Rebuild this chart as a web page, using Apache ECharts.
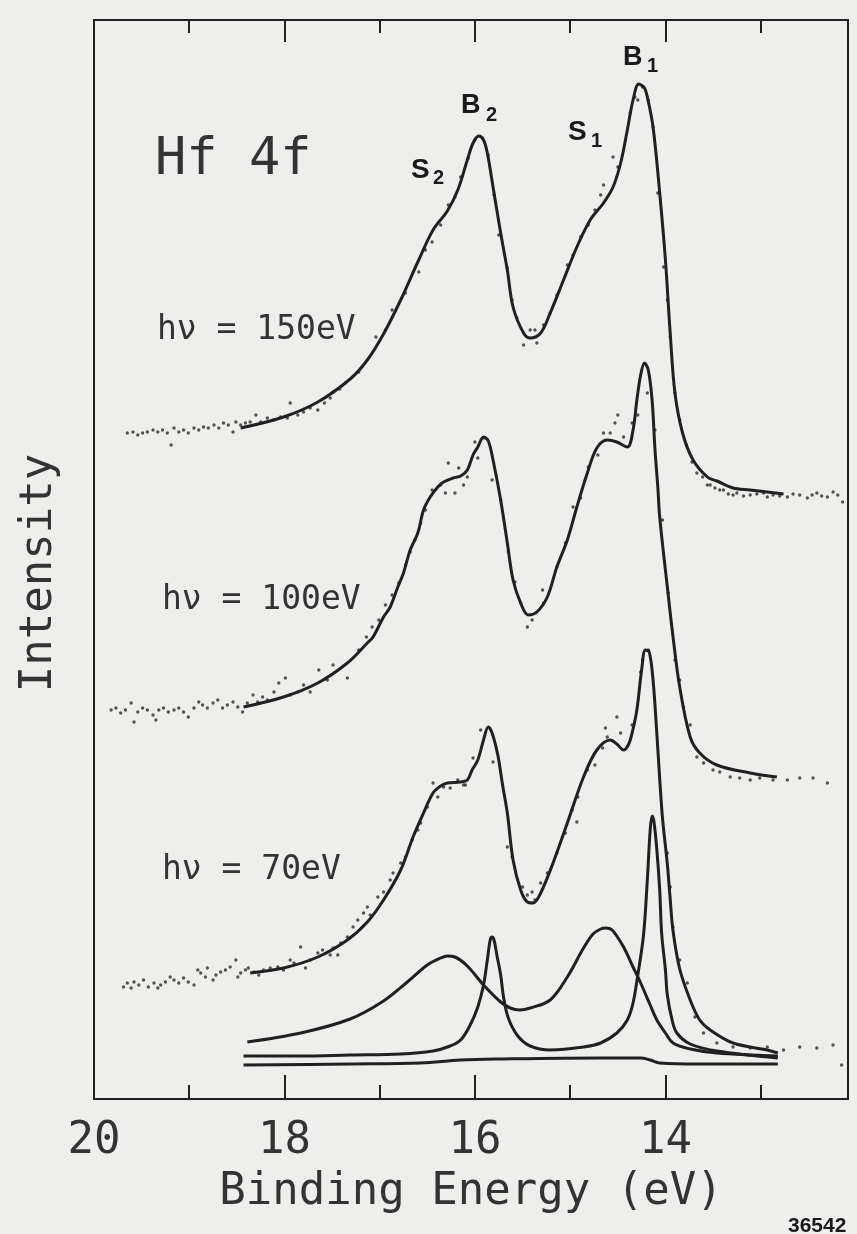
<!DOCTYPE html>
<html>
<head>
<meta charset="utf-8">
<script src="https://cdn.jsdelivr.net/npm/echarts@6/dist/echarts.min.js"></script>
<style>
  html, body { margin: 0; padding: 0; background: #eeeeec; }
  #chart { width: 857px; height: 1234px; }
</style>
</head>
<body>
<div id="chart"></div>
<script>
// ---------- tick definitions (binding energy, eV) ----------
const xTickLabels = [14, 16, 18, 20];
const xMajorTicks = [14, 16, 18];
const xMinorTicks = [13, 15, 17, 19];

// ---------- hv = 150 eV : fit curve and measured points ----------
const fit150 = [[18.46,67.1],[18.01,68.2],[17.65,69.7],[17.31,72.0],[17.13,73.9],[16.96,76.5],[16.78,79.9],[16.60,83.7],[16.44,86.9],[16.29,88.8],[16.18,90.9],[16.08,93.9],[16.02,95.6],[15.96,96.3],[15.91,95.9],[15.87,94.6],[15.81,91.2],[15.73,86.6],[15.66,82.9],[15.60,79.2],[15.49,76.6],[15.42,76.1],[15.31,76.6],[15.21,78.6],[15.07,81.9],[14.93,85.2],[14.79,87.9],[14.65,89.6],[14.55,91.2],[14.47,93.6],[14.40,96.9],[14.34,99.9],[14.28,101.5],[14.22,101.1],[14.19,100.2],[14.13,97.2],[14.06,90.6],[14.00,83.9],[13.95,76.6],[13.90,70.6],[13.82,66.6],[13.71,63.9],[13.56,62.2],[13.46,61.8],[13.29,61.1],[13.11,60.9],[12.76,60.5]];
const dots150 = [[19.65,66.6],[19.59,66.7],[19.54,66.4],[19.49,66.6],[19.44,66.7],[19.38,66.9],[19.33,66.7],[19.28,66.9],[19.23,66.6],[19.19,65.4],[19.16,67.1],[19.11,66.7],[19.06,66.9],[19.01,66.6],[18.95,67.1],[18.90,66.9],[18.85,67.2],[18.80,67.1],[18.74,67.4],[18.69,67.1],[18.64,67.6],[18.59,67.4],[18.54,66.7],[18.51,67.7],[18.46,67.4],[18.41,67.6],[18.36,67.7],[18.30,68.4],[18.25,67.7],[18.18,68.1],[18.11,67.9],[18.04,68.2],[17.97,68.1],[17.94,69.6],[17.86,68.4],[17.80,68.7],[17.73,69.1],[17.65,68.9],[17.58,69.6],[17.52,70.1],[17.42,71.0],
  [17.49,70.7],[17.36,71.6],[17.22,72.7],[17.04,76.2],[16.94,76.9],[16.87,78.9],[16.73,80.6],[16.59,82.7],[16.52,84.9],[16.45,85.7],[16.36,87.4],[16.28,89.4],[16.21,90.2],[16.15,92.2],[16.07,94.1],[16.00,95.9],[15.92,96.1],[15.86,94.4],[15.80,90.4],[15.75,86.4],[15.66,83.1],[15.61,79.9],[15.56,78.1],[15.49,75.4],[15.42,76.9],[15.37,76.9],[15.35,75.6],[15.28,77.4],[15.21,78.6],[15.14,80.4],[15.03,83.4],[14.97,84.4],[14.89,86.2],[14.81,87.4],[14.74,88.9],[14.68,90.4],[14.65,91.4],[14.55,94.2],[14.50,93.2],[14.42,95.9],[14.37,98.6],[14.32,100.2],[14.29,99.9],[14.24,101.2],[14.18,99.9],[14.13,97.2],[14.08,90.6],[14.02,83.2],[13.98,79.9],[13.95,76.2],[13.90,70.6],[13.85,67.9],[13.78,65.4],[13.72,63.7],[13.67,62.6],[13.61,62.2],[13.56,61.4],[13.53,61.4],[13.48,61.1],[13.43,60.9],[13.39,60.9],[13.34,60.5],[13.29,60.4],[13.25,60.6],[13.18,60.3],[13.11,60.4],[13.04,60.5],[12.97,60.6],[12.93,60.2],[12.87,60.4],[12.80,60.3],[12.72,60.2],[12.66,60.5],[12.59,60.4],[12.51,60.1],[12.46,60.4],[12.41,60.6],[12.36,60.3],[12.30,60.2],[12.24,60.7],[12.19,60.4],[12.14,59.7]];

// ---------- hv = 100 eV ----------
const fit100 = [[18.43,39.2],[18.01,40.2],[17.65,41.6],[17.34,43.6],[17.13,45.6],[17.07,46.2],[16.96,48.2],[16.89,49.2],[16.81,51.2],[16.75,52.6],[16.68,54.9],[16.60,56.6],[16.54,58.9],[16.47,60.2],[16.39,61.2],[16.33,61.7],[16.23,62.1],[16.15,62.3],[16.08,62.9],[16.02,64.4],[15.97,65.2],[15.91,66.2],[15.86,65.8],[15.81,63.9],[15.73,59.9],[15.66,55.6],[15.60,51.9],[15.52,49.6],[15.44,48.4],[15.35,48.7],[15.24,50.2],[15.14,53.2],[15.03,55.9],[14.93,59.2],[14.82,62.6],[14.72,65.1],[14.61,65.9],[14.51,65.7],[14.40,65.2],[14.34,66.9],[14.30,69.9],[14.26,72.4],[14.22,73.6],[14.18,72.9],[14.14,69.9],[14.11,65.0],[14.08,61.2],[14.06,58.2],[13.98,51.2],[13.92,46.2],[13.85,41.2],[13.74,36.2],[13.64,34.6],[13.46,33.4],[13.11,32.6],[12.83,32.2]];
const dots100 = [[19.82,38.9],[19.77,39.1],[19.72,38.6],[19.67,38.9],[19.61,39.6],[19.58,37.7],[19.54,38.7],[19.49,39.1],[19.44,38.9],[19.38,38.4],[19.35,37.9],[19.32,38.9],[19.27,39.1],[19.22,38.7],[19.16,38.9],[19.11,39.1],[19.06,38.7],[19.01,38.2],[18.95,39.1],[18.90,39.7],[18.86,39.4],[18.81,39.1],[18.75,39.6],[18.70,39.9],[18.65,39.1],[18.60,39.4],[18.54,39.7],[18.49,39.2],[18.44,38.7],[18.39,39.6],[18.33,40.4],[18.28,39.7],[18.23,40.2],[18.18,39.9],[18.11,40.7],[18.06,41.6],[17.99,42.1],[17.94,40.4],[17.86,40.7],[17.80,41.4],[17.73,40.7],[17.64,42.9],[17.55,41.9],[17.49,43.4],[17.34,42.1],
  [17.22,44.9],[17.14,46.2],[17.08,47.2],[17.01,47.9],[16.94,49.4],[16.87,50.4],[16.80,51.6],[16.73,53.4],[16.68,54.7],[16.63,55.9],[16.57,57.6],[16.52,58.9],[16.45,60.9],[16.36,61.4],[16.31,60.6],[16.28,63.6],[16.21,60.6],[16.17,63.1],[16.12,61.4],[16.08,62.2],[16.00,65.7],[15.97,64.1],[15.91,66.1],[15.82,61.9],[15.73,59.9],[15.65,54.7],[15.58,51.7],[15.52,49.6],[15.45,47.2],[15.40,47.9],[15.29,50.9],[15.28,49.6],[15.14,53.2],[15.05,55.6],[14.97,59.2],[14.89,60.1],[14.81,63.2],[14.71,64.4],[14.65,66.6],[14.58,66.6],[14.53,67.6],[14.50,68.4],[14.44,66.2],[14.35,67.6],[14.29,68.4],[14.19,70.6],
  [14.11,66.9],[14.03,57.9],[13.97,50.6],[13.90,43.9],[13.85,41.9],[13.81,39.2],[13.74,37.4],[13.67,34.2],[13.60,33.6],[13.50,32.9],[13.43,32.7],[13.32,32.2],[13.22,32.1],[13.11,31.9],[13.01,32.1],[12.87,31.9],[12.72,31.9],[12.59,32.1],[12.45,32.1],[12.30,31.6]];

// ---------- hv = 70 eV ----------
const fit70 = [[18.36,12.6],[18.01,13.1],[17.65,14.2],[17.34,15.9],[17.13,17.7],[16.96,19.9],[16.78,22.9],[16.65,26.2],[16.54,28.6],[16.44,30.6],[16.36,31.3],[16.29,31.6],[16.15,31.7],[16.08,31.9],[16.03,32.9],[15.97,33.9],[15.91,35.9],[15.86,37.2],[15.82,36.6],[15.76,34.4],[15.71,31.4],[15.66,28.6],[15.60,23.9],[15.52,20.9],[15.45,19.7],[15.39,19.6],[15.31,20.6],[15.18,23.6],[15.03,27.6],[14.86,32.2],[14.72,34.9],[14.58,35.9],[14.51,35.5],[14.44,34.9],[14.39,35.4],[14.35,36.6],[14.30,38.9],[14.25,42.9],[14.21,44.9],[14.17,44.7],[14.13,41.9],[14.09,36.5],[14.06,32.0],[14.03,28.0],[13.98,23.5],[13.95,20.0],[13.92,16.8],[13.85,13.0],[13.74,9.9],[13.64,7.9],[13.53,6.9],[13.29,5.6],[12.93,4.9],[12.82,4.6]];
const dots70 = [[19.69,11.2],[19.65,11.6],[19.61,11.1],[19.58,11.7],[19.53,11.4],[19.48,11.9],[19.43,11.2],[19.37,11.6],[19.33,11.1],[19.30,11.4],[19.25,11.7],[19.20,12.2],[19.16,11.9],[19.11,11.6],[19.06,12.1],[19.01,11.7],[18.95,11.4],[18.91,12.9],[18.88,12.6],[18.83,12.2],[18.81,13.1],[18.75,11.9],[18.72,12.4],[18.67,12.7],[18.62,12.9],[18.57,13.2],[18.51,13.9],[18.49,12.2],[18.46,12.6],[18.41,12.9],[18.38,13.1],[18.32,12.7],[18.27,12.4],[18.22,12.9],[18.15,13.1],[18.07,13.2],[18.01,12.9],[17.94,13.9],[17.90,13.6],[17.83,15.2],[17.78,13.1],[17.73,13.9],[17.65,14.6],[17.60,14.9],[17.52,14.4],[17.49,15.1],[17.44,14.4],[17.41,15.6],[17.34,16.2],[17.28,17.2],[17.23,17.9],[17.17,18.6],[17.13,19.2],[17.10,18.4],[17.02,20.2],[16.96,20.7],[16.89,21.9],[16.86,22.6],[16.78,23.6],[16.73,24.2],[16.66,25.9],[16.60,26.9],[16.57,27.6],[16.50,29.2],[16.44,31.6],[16.39,30.2],[16.33,31.2],[16.26,31.1],[16.18,31.9],[16.12,31.4],[16.10,31.4],
  [16.02,34.1],[15.94,36.9],[15.81,33.7],[15.66,25.2],[15.61,24.2],[15.50,21.2],[15.45,20.4],[15.40,20.7],[15.37,19.9],[15.31,21.6],[15.24,22.6],[15.14,24.6],[15.05,26.6],[14.98,28.9],[14.93,27.7],[14.92,30.2],[14.82,32.9],[14.74,33.4],[14.66,35.1],[14.63,37.1],[14.61,36.2],[14.51,38.2],[14.47,36.6],[14.35,37.4],[14.26,42.7],[14.24,43.9],[14.18,44.9],
  [13.98,24.6],[13.95,21.2],[13.92,17.2],[13.85,13.9],[13.77,11.6],[13.69,8.2],[13.60,6.6],[13.46,5.6],[13.29,5.2],[13.11,5.1],[12.93,5.2],[12.76,4.9],[12.59,5.2],[12.41,5.1],[12.24,5.4],[12.15,3.4]];

// ---------- hv = 70 eV decomposition ----------
const compSurface = [[18.39,5.7],[17.83,6.6],[17.31,8.0],[16.96,9.8],[16.71,11.7],[16.50,13.4],[16.36,14.1],[16.29,14.3],[16.21,14.2],[16.08,13.3],[15.91,11.4],[15.73,9.7],[15.63,9.1],[15.53,8.9],[15.42,9.1],[15.21,9.9],[15.03,12.2],[14.86,15.1],[14.76,16.5],[14.68,17.0],[14.63,17.1],[14.56,16.9],[14.44,15.2],[14.34,13.2],[14.26,11.6],[14.16,9.4],[14.09,7.9],[14.00,6.6],[13.92,5.6],[13.74,5.0],[13.46,4.6],[12.82,4.3]];
const compBulk = [[18.43,4.3],[17.83,4.3],[17.31,4.4],[16.78,4.5],[16.44,4.8],[16.26,5.3],[16.15,5.9],[16.05,7.4],[15.97,9.2],[15.91,11.4],[15.87,13.9],[15.84,15.9],[15.82,16.2],[15.80,15.9],[15.77,14.4],[15.73,12.4],[15.70,10.2],[15.65,8.1],[15.55,6.3],[15.42,5.3],[15.21,4.9],[14.86,5.2],[14.68,5.6],[14.51,6.6],[14.40,7.9],[14.34,9.6],[14.29,12.4],[14.23,16.4],[14.19,21.9],[14.16,26.9],[14.14,28.3],[14.12,27.7],[14.09,24.9],[14.06,20.9],[14.04,16.6],[14.00,12.9],[13.98,10.4],[13.93,7.9],[13.88,6.6],[13.74,5.5],[13.46,4.8],[12.82,4.1]];
const backgroundLine = [[18.43,3.4],[17.31,3.5],[16.57,3.6],[16.15,3.9],[15.73,4.0],[14.68,4.1],[14.26,4.1],[14.16,3.9],[14.06,3.6],[13.64,3.5],[12.82,3.5]];

const INK = '#202020';
const TXT = '#333333';
const MONO = '"DejaVu Sans Mono", "Liberation Mono", monospace';
const BOLD = 'bold {S}px "Liberation Sans", Arial, sans-serif';

const chart = echarts.init(document.getElementById('chart'), null, { renderer: 'canvas' });

function xAx(pos, ticks, len, labels) {
  return {
    type: 'value', min: 12.083, max: 20, inverse: true, position: pos,
    axisLine: { show: false }, splitLine: { show: false },
    axisTick: { show: true, inside: true, length: len, customValues: ticks, lineStyle: { color: INK, width: 2 } },
    axisLabel: labels ? { show: true, customValues: labels, margin: 21, fontFamily: MONO, fontSize: 44, color: TXT } : { show: false }
  };
}
const xMain = xAx('bottom', xMajorTicks, 24, xTickLabels);
xMain.name = 'Binding Energy (eV)';
xMain.nameLocation = 'middle';
xMain.nameGap = 72;
xMain.nameTextStyle = { fontFamily: MONO, fontSize: 44, color: TXT };

function lineSeries(name, data) {
  return { name, type: 'line', data, showSymbol: false, smooth: 0.35,
    lineStyle: { color: INK, width: 3 }, silent: true, z: 3 };
}
function dotSeries(name, data) {
  return { name, type: 'scatter', data, symbol: 'circle', symbolSize: 3.4,
    itemStyle: { color: '#2a2a2a' }, silent: true, z: 2 };
}
function txt(text, x, y, font, color) {
  return { type: 'text', x, y, silent: true,
    style: { text, font, fill: color || TXT, align: 'left', verticalAlign: 'middle' } };
}
const big = (s) => BOLD.replace('{S}', s);

chart.setOption({
  backgroundColor: '#eeeeec',
  animation: false,
  grid: { left: 94, right: 9, top: 20, bottom: 135, show: true, borderColor: INK, borderWidth: 2, backgroundColor: 'transparent' },
  xAxis: [
    xMain,
    xAx('bottom', xMinorTicks, 14, null),
    xAx('top', xMajorTicks, 22, null),
    xAx('top', xMinorTicks, 13, null)
  ],
  yAxis: [{
    type: 'value', min: 0, max: 107.9,
    axisLine: { show: false }, axisTick: { show: false }, axisLabel: { show: false }, splitLine: { show: false },
    name: 'Intensity', nameLocation: 'middle', nameGap: 32,
    nameTextStyle: { fontFamily: MONO, fontSize: 44, color: TXT, padding: [0, 27, 0, 0] }
  }],
  series: [
    dotSeries('hv 150 eV data', dots150),
    lineSeries('hv 150 eV fit', fit150),
    dotSeries('hv 100 eV data', dots100),
    lineSeries('hv 100 eV fit', fit100),
    dotSeries('hv 70 eV data', dots70),
    lineSeries('hv 70 eV fit', fit70),
    lineSeries('surface components', compSurface),
    lineSeries('bulk components', compBulk),
    lineSeries('background', backgroundLine)
  ],
  graphic: [
    txt('Hf 4f', 155, 160, '52px ' + MONO),
    txt('hν = 150eV', 157, 330, '33px ' + MONO),
    txt('hν = 100eV', 162, 600, '33px ' + MONO),
    txt('hν = 70eV', 162, 870, '33px ' + MONO),
    txt('B', 623, 58, big(27), '#1a1a1a'), txt('1', 647, 66, big(20), '#1a1a1a'),
    txt('B', 461, 106, big(27), '#1a1a1a'), txt('2', 486, 115, big(20), '#1a1a1a'),
    txt('S', 568, 132, big(28), '#1a1a1a'), txt('1', 591, 141, big(20), '#1a1a1a'),
    txt('S', 411, 170, big(28), '#1a1a1a'), txt('2', 433, 178, big(20), '#1a1a1a'),
    txt('36542', 788, 1226, big(21), '#1a1a1a')
  ]
});
</script>
</body>
</html>
